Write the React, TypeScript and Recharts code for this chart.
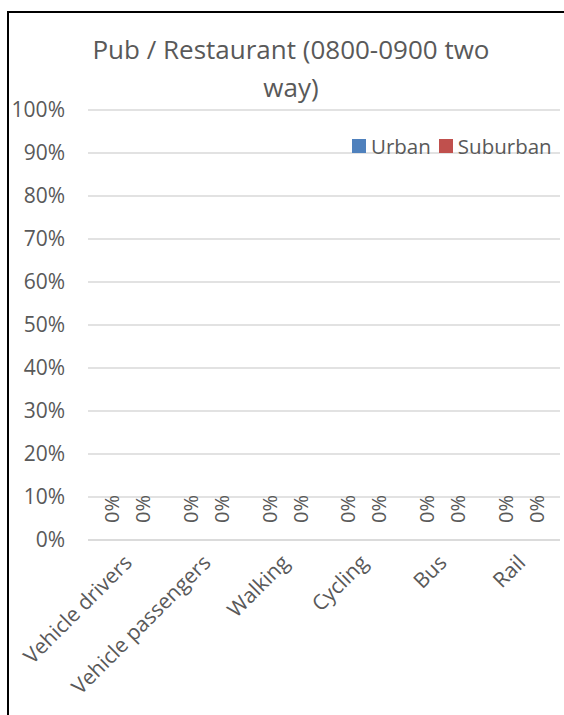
import React from "react";
import { Bar, BarChart, CartesianGrid, Legend, XAxis, YAxis } from "recharts";

const title = ["Pub / Restaurant (0800-0900 two", "way)"];
const categories = ["Vehicle drivers", "Vehicle passengers", "Walking", "Cycling", "Bus", "Rail"];
const urbanValues = [0, 0, 0, 0, 0, 0];
const suburbanValues = [0, 0, 0, 0, 0, 0];
const yTicks = [0, 0.1, 0.2, 0.3, 0.4, 0.5, 0.6, 0.7, 0.8, 0.9, 1];

const seriesColors = { urban: "#4F81BD", suburban: "#C0504D" };
const textGrey = "#595959";
const font = "'Open Sans', sans-serif";

const data = categories.map((name, i) => ({
  name,
  urban: urbanValues[i],
  suburban: suburbanValues[i],
}));

function pct(value: number): string {
  return `${Math.round(value * 100)}%`;
}

function CategoryTick(props: any) {
  const { x, y, payload } = props;
  return (
    <text
      transform={`translate(${x + 6},${y + 22}) rotate(-45)`}
      textAnchor="end"
      fill={textGrey}
      fontSize={21}
      fontFamily={font}
    >
      {payload.value}
    </text>
  );
}

// bar rect plus its rotated value label; zero-height bars still get the label
function BarWithLabel(props: any) {
  const { x, y, width, height, fill, value } = props;
  const v = Array.isArray(value) ? value[1] - value[0] : Number(value) || 0;
  return (
    <g>
      {height > 0 && <rect x={x} y={y} width={width} height={height} fill={fill} />}
      <text
        transform={`translate(${x + width / 2},${y - 17}) rotate(-90)`}
        textAnchor="start"
        dominantBaseline="central"
        fill={textGrey}
        fontSize={20}
        fontFamily={font}
      >
        {pct(v)}
      </text>
    </g>
  );
}

function LegendBox() {
  const items = [
    { label: "Urban", color: seriesColors.urban },
    { label: "Suburban", color: seriesColors.suburban },
  ];
  return (
    <div style={{ display: "flex", alignItems: "center", fontFamily: font, fontSize: 20.5, color: textGrey }}>
      {items.map((item) => (
        <span key={item.label} style={{ display: "flex", alignItems: "center", marginRight: 8 }}>
          <span style={{ width: 14, height: 14, background: item.color, marginRight: 5 }} />
          {item.label}
        </span>
      ))}
    </div>
  );
}

export default function App() {
  return (
    <div style={{ position: "absolute", left: 0, top: 0, width: 564, height: 715, overflow: "hidden", background: "#fff" }}>
      {/* chart frame: only the top and left edges fall inside the picture */}
      <div style={{ position: "absolute", left: 7, top: 11, width: 557, height: 2, background: "#000" }} />
      <div style={{ position: "absolute", left: 7, top: 11, width: 2, height: 704, background: "#000" }} />
      <div
        style={{
          position: "absolute",
          left: 0,
          top: 30,
          width: 582,
          textAlign: "center",
          fontFamily: font,
          fontSize: 26,
          lineHeight: "38px",
          color: textGrey,
        }}
      >
        {title.map((line) => (
          <div key={line}>{line}</div>
        ))}
      </div>
      <div style={{ position: "absolute", left: 0, top: 0 }}>
        <BarChart
          width={564}
          height={715}
          data={data}
          margin={{ top: 110, right: 4, bottom: 25, left: 8 }}
          barCategoryGap="10.5%"
          barGap={0}
        >
          <CartesianGrid vertical={false} stroke="#d9d9d9" strokeWidth={1.5} />
          <XAxis
            dataKey="name"
            interval={0}
            height={150}
            axisLine={{ stroke: "#d9d9d9", strokeWidth: 1.5 }}
            tickLine={false}
            tickSize={0}
            tick={<CategoryTick />}
          />
          <YAxis
            domain={[0, 1]}
            ticks={yTicks}
            width={80}
            axisLine={false}
            tickLine={false}
            tickSize={0}
            tickMargin={23}
            tickFormatter={pct}
            tick={{ fill: textGrey, fontSize: 21, fontFamily: font }}
          />
          <Legend
            verticalAlign="middle"
            align="center"
            content={<LegendBox />}
            wrapperStyle={{ position: "absolute", top: 132, left: 352, width: "auto" }}
          />
          <Bar
            dataKey="urban"
            name="Urban"
            fill={seriesColors.urban}
            shape={<BarWithLabel />}
            isAnimationActive={false}
          />
          <Bar
            dataKey="suburban"
            name="Suburban"
            fill={seriesColors.suburban}
            shape={<BarWithLabel />}
            isAnimationActive={false}
          />
        </BarChart>
      </div>
    </div>
  );
}
